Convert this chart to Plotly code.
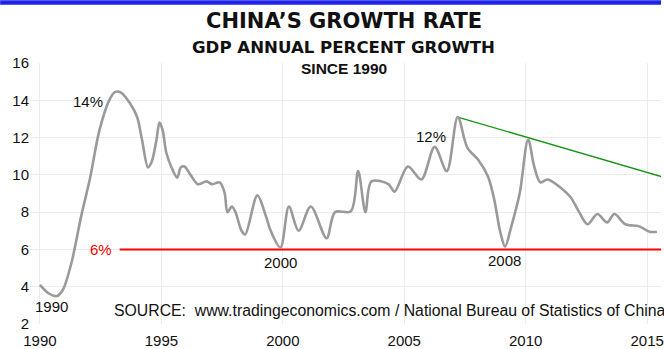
import plotly.graph_objects as go

# China GDP annual growth rate (%), quarterly readings since 1990
years = [1990.0, 1990.35, 1990.7, 1990.95, 1991.3, 1991.7, 1992.05, 1992.45, 1992.85, 1993.1,
         1993.35, 1993.7, 1994.0, 1994.2, 1994.45, 1994.6, 1994.8, 1994.92, 1995.05, 1995.2,
         1995.45, 1995.65, 1995.8, 1995.95, 1996.2, 1996.5, 1996.85, 1997.1, 1997.4, 1997.6,
         1997.72, 1997.9, 1998.05, 1998.3, 1998.45, 1998.95, 1999.3, 1999.5, 1999.9, 2000.25,
         2000.65, 2001.15, 2001.8, 2002.15, 2002.8, 2003.1, 2003.4, 2003.65, 2004.35, 2004.6,
         2005.15, 2005.7, 2006.25, 2006.75, 2007.2, 2007.6, 2008.05, 2008.45, 2008.7, 2008.95,
         2009.15, 2009.4, 2009.75, 2010.1, 2010.35, 2010.6, 2010.9, 2011.45, 2011.85, 2012.2,
         2012.55, 2012.95, 2013.35, 2013.65, 2014.1, 2014.65, 2015.1, 2015.4]
growth = [4.1, 3.65, 3.5, 3.85, 5.3, 7.8, 9.75, 12.4, 14.0, 14.45,
          14.4, 13.85, 13.1, 11.9, 10.4, 10.7, 11.9, 12.8, 12.4, 11.2,
          10.3, 9.85, 10.4, 10.45, 10.0, 9.5, 9.65, 9.5, 9.6, 9.05,
          8.0, 8.3, 8.0, 7.0, 6.8, 8.9, 7.8, 7.0, 6.1, 8.3,
          7.0, 8.3, 6.6, 8.0, 8.05, 10.2, 8.0, 9.65, 9.5, 9.1,
          10.45, 9.75, 11.5, 10.2, 13.1, 11.45, 10.8, 9.9, 8.7, 6.95,
          6.15, 7.2, 9.0, 11.9, 10.45, 9.6, 9.75, 9.3, 8.8, 8.0,
          7.35, 7.9, 7.45, 7.9, 7.35, 7.25, 6.95, 6.95]

# Declining trend line through the 2007 and 2010 peaks
trend_years = [2007.2, 2016.0]
trend_values = [13.1, 9.75]

# 6% reference level
floor_years = [1993.28, 2016.0]
floor_values = [6.0, 6.0]

x_ticks = [1990, 1995, 2000, 2005, 2010, 2015]
y_ticks = [2, 4, 6, 8, 10, 12, 14, 16]

font_family = "Liberation Sans, Arial, sans-serif"
wide_bold = "DejaVu Sans, Liberation Sans, sans-serif"

W, H = 664, 349
L, R, T, B = 30, 0, 63, 24

fig = go.Figure()
fig.add_trace(go.Scatter(x=floor_years, y=floor_values, mode="lines",
                         line=dict(color="#ff0000", width=2), hoverinfo="skip"))
fig.add_trace(go.Scatter(x=trend_years, y=trend_values, mode="lines",
                         line=dict(color="#139313", width=1.3), hoverinfo="skip"))
fig.add_trace(go.Scatter(x=years, y=growth, mode="lines",
                         line=dict(color="#9a9a9a", width=2.6, shape="spline", smoothing=0.9)))

notes = [
    ("14%", 1991.97, 13.92, "#111111"),
    ("12%", 2006.1, 12.04, "#111111"),
    ("2000", 1999.92, 5.31, "#111111"),
    ("2008", 2009.14, 5.42, "#111111"),
    ("1990", 1990.49, 2.96, "#111111"),
    ("6%", 1992.5, 6.0, "#ff0000"),
]
for t, x, y, c in notes:
    fig.add_annotation(text=t, x=x, y=y, xref="x", yref="y", showarrow=False,
                       font=dict(family=font_family, size=15, color=c))

fig.add_annotation(
    text="SOURCE:\u00a0\u00a0www.tradingeconomics.com / National Bureau of Statistics of China",
    x=1992.95, y=2.75, xref="x", yref="y", xanchor="left", showarrow=False,
    font=dict(family=font_family, size=15.8, color="#111111"))

fig.update_layout(
    width=W, height=H,
    margin=dict(l=L, r=R, t=T, b=B),
    paper_bgcolor="white", plot_bgcolor="white",
    showlegend=False,
    xaxis=dict(range=[1989.59, 2015.57], tickvals=x_ticks, ticktext=[str(v) for v in x_ticks],
               showgrid=True, gridcolor="#ececec", gridwidth=1, zeroline=False, showline=False,
               ticks="outside", ticklen=3, tickcolor="rgba(0,0,0,0)",
               ticklabeloverflow="allow",
               tickfont=dict(family=font_family, size=15, color="#111111")),
    yaxis=dict(range=[2, 16], tickvals=y_ticks, showgrid=True, gridcolor="#ececec", gridwidth=1,
               zeroline=False, showline=False, ticks="",
               tickfont=dict(family=font_family, size=15, color="#111111")),
)

# Title lines positioned in pixel terms relative to the plot area
plot_h = H - T - B
def paper_y(px):
    return (H - B - px) / plot_h

def paper_x(px):
    return (px - L) / (W - L - R)

titles = [
    ("<b>CHINA\u2019S GROWTH RATE</b>", 21, 21, wide_bold),
    ("<b>GDP ANNUAL PERCENT GROWTH</b>", 47.5, 16.6, wide_bold),
    ("<b>SINCE 1990</b>", 69, 15.5, font_family),
]
for text, py, size, fam in titles:
    fig.add_annotation(text=text, x=paper_x(345), y=paper_y(py), xref="paper", yref="paper",
                       showarrow=False, xanchor="center", yanchor="middle",
                       font=dict(family=fam, size=size, color="#111111"))

# Blue band across the top edge
fig.add_shape(type="rect", xref="paper", yref="paper", x0=paper_x(0), x1=paper_x(W),
              y0=paper_y(4.5), y1=paper_y(0), fillcolor="#1e22ee", line=dict(width=0), layer="above")

fig.write_html("out.html")
